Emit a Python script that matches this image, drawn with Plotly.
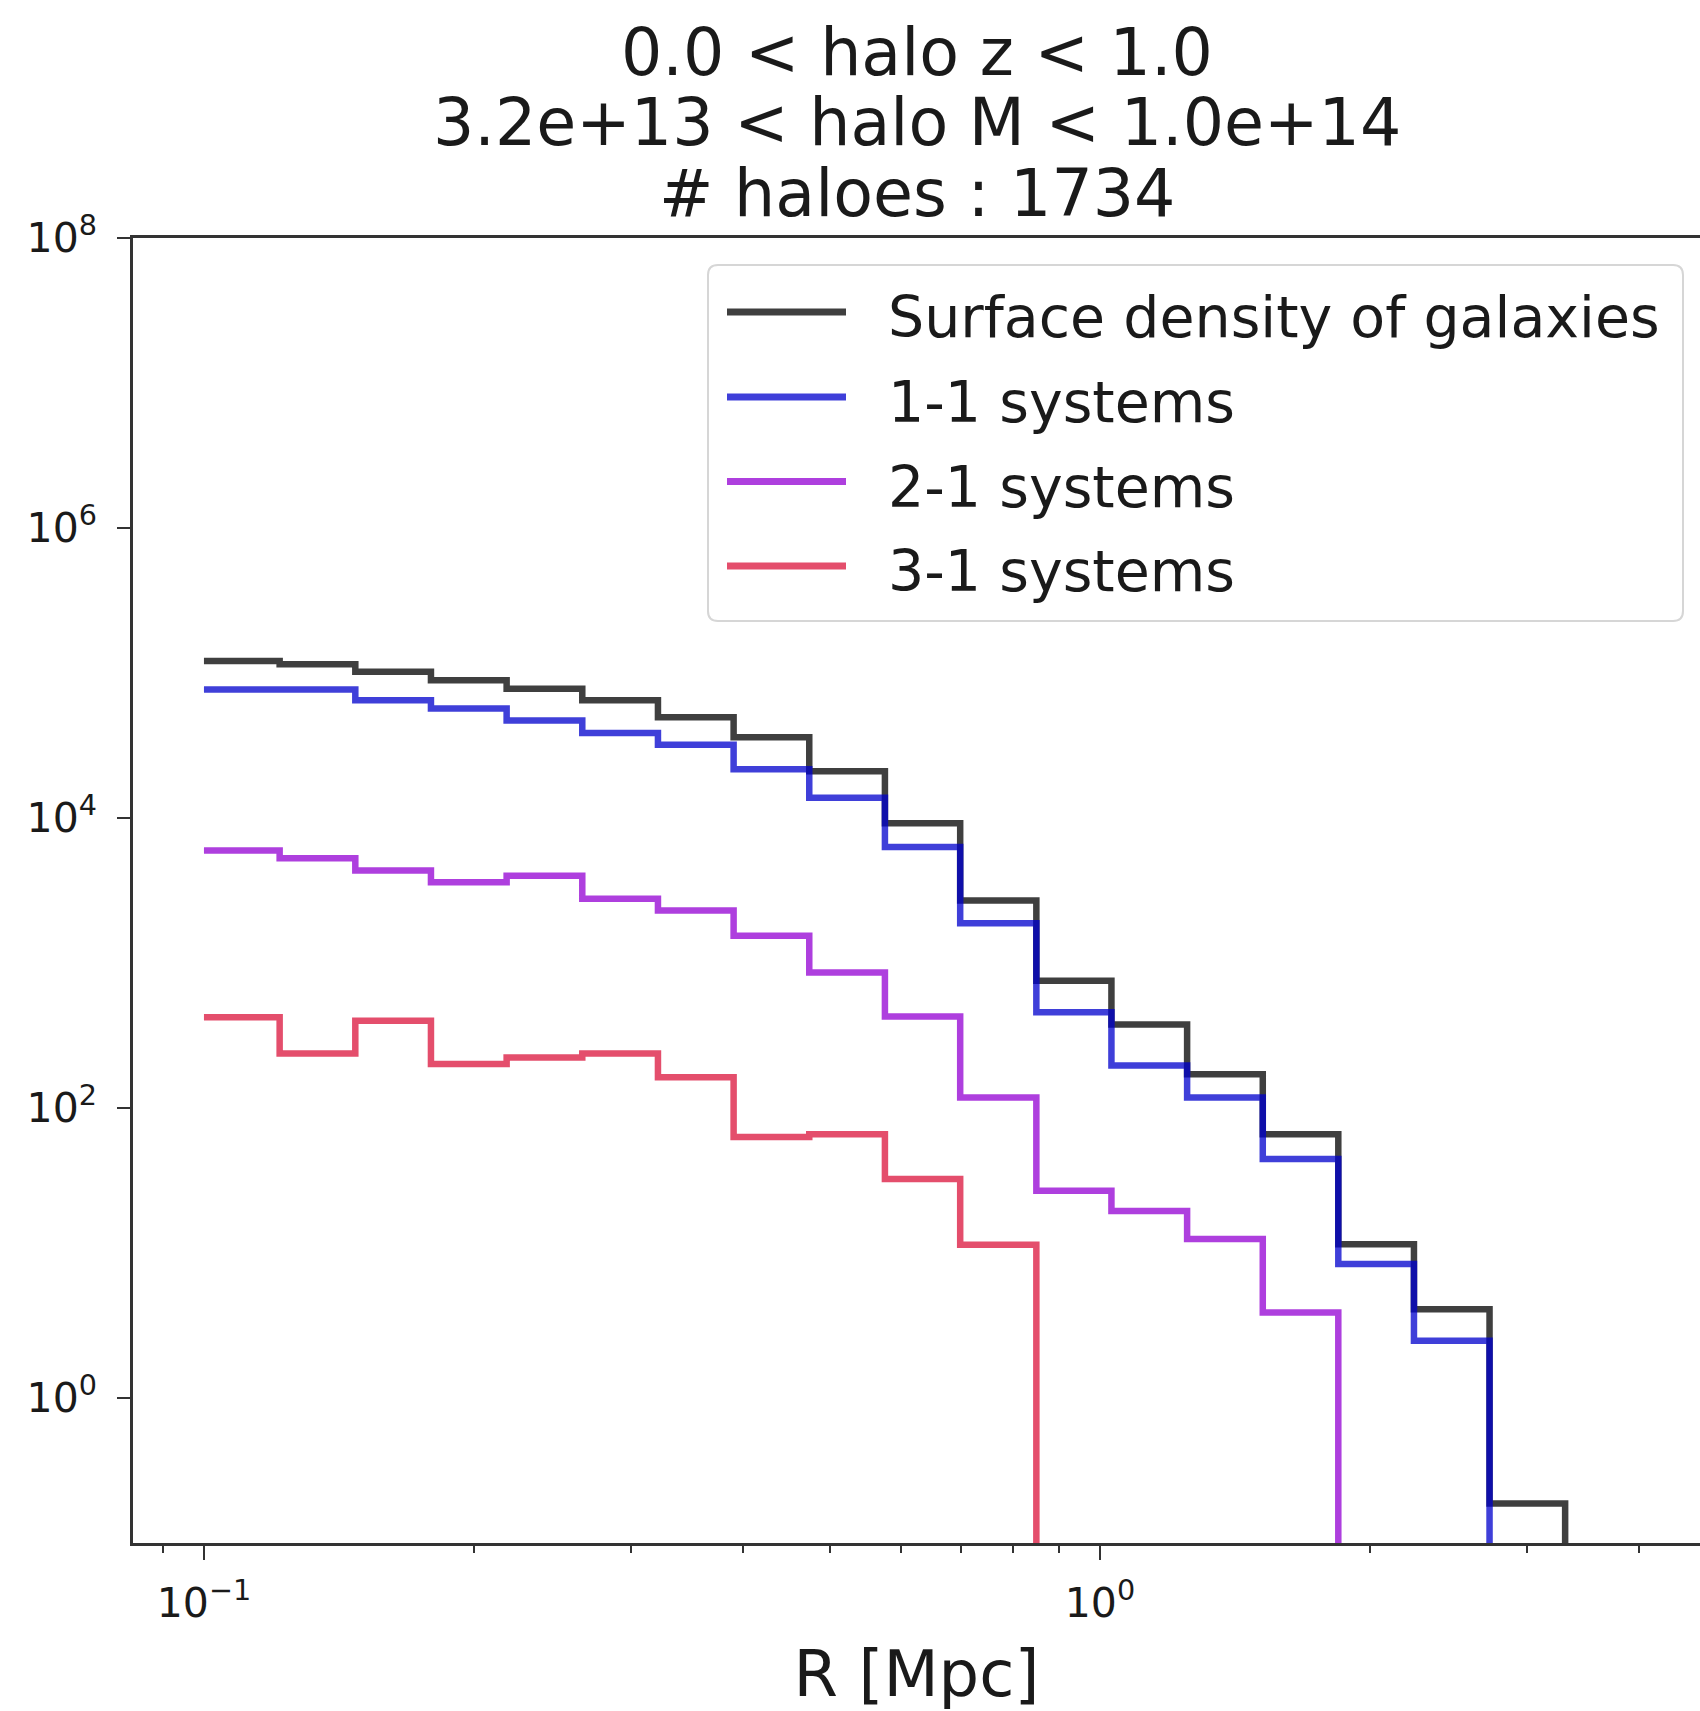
import plotly.graph_objects as go

# ---------------- data ----------------
bin_edges = [0.1, 0.12147, 0.14754, 0.17920, 0.21767, 0.26438, 0.32113, 0.39005,
             0.47376, 0.57544, 0.69823, 0.84918, 1.0299, 1.2510, 1.5195, 1.8450,
             2.2410, 2.7214, 3.3050]

galaxies = [1.21e5, 1.15e5, 1.02e5, 8.9e4, 7.8e4, 6.5e4, 4.95e4, 3.6e4, 2.1e4,
            9.2e3, 2.7e3, 755, 376, 171, 66, 11.5, 4.1, 0.187]
sys_1_1 = [7.7e4, 7.7e4, 6.5e4, 5.7e4, 4.7e4, 3.85e4, 3.2e4, 2.17e4, 1.38e4,
           6.3e3, 1.88e3, 457, 196, 118, 44.5, 8.4, 2.48, 0]
sys_2_1 = [5.96e3, 5.27e3, 4.34e3, 3.6e3, 4.0e3, 2.77e3, 2.3e3, 1.54e3, 861,
           427, 118, 26.9, 19.5, 12.5, 3.89, 0, 0, 0]
sys_3_1 = [422, 238, 400, 201, 223, 238, 163, 63, 66, 32.4, 11.4, 0, 0, 0,
           0, 0, 0, 0]

series_names = ["Surface density of galaxies", "1-1 systems", "2-1 systems", "3-1 systems"]
series_values = [galaxies, sys_1_1, sys_2_1, sys_3_1]
series_colors = ["black", "mediumblue", "darkviolet", "crimson"]

title_lines = ["0.0 < halo z < 1.0", "3.2e+13 < halo M < 1.0e+14", "# haloes : 1734"]
x_title = "R [Mpc]"
x_tickvals = [0.1, 1]
x_ticktext = ["10<sup>\u22121</sup>", "10<sup>0</sup>"]
x_minor = [0.09, 0.2, 0.3, 0.4, 0.5, 0.6, 0.7, 0.8, 0.9, 2, 3, 4]
y_tickvals = [1, 1e2, 1e4, 1e6, 1e8]
y_ticktext = ["10<sup>0</sup>", "10<sup>2</sup>", "10<sup>4</sup>", "10<sup>6</sup>", "10<sup>8</sup>"]

# ---------------- layout geometry ----------------
W, H = 1700, 1711
L, R, T, B = 133, 0, 238, 168
PW, PH = W - L - R, H - T - B
FONT = "DejaVu Sans"
FLOOR = 1e-3  # zero bins are drawn below the visible range (clipped)


def px(x):
    return (x - L) / PW


def py(y):
    return (H - B - y) / PH


fig = go.Figure()
for name, vals, col in zip(series_names, series_values, series_colors):
    yv = [v if v > 0 else FLOOR for v in vals] + [FLOOR]
    fig.add_trace(go.Scatter(
        x=bin_edges, y=yv, mode="lines", name=name,
        line=dict(color=col, width=6.5, shape="hv"),
        opacity=0.75, showlegend=False,
    ))

axis_common = dict(
    showgrid=False, zeroline=False, showline=True, linecolor="#333333",
    linewidth=2.5, ticks="outside", tickcolor="#333333", tickwidth=2,
    tickfont=dict(family=FONT, size=41, color="#1a1a1a"),
)

# x range: page x=133 -> 10^-1.0792, 896 px per decade
x_left = -1.0792
x_right = x_left + PW / 896.0

fig.update_xaxes(
    type="log", range=[x_left, x_right], tickvals=x_tickvals, ticktext=x_ticktext,
    ticklen=14, mirror=True, ticklabelstandoff=8,
    minor=dict(tickvals=x_minor, ticklen=7, tickwidth=1.5, tickcolor="#333333", ticks="outside"),
    title=dict(text=x_title, font=dict(family=FONT, size=64, color="#1a1a1a"), standoff=28),
    **axis_common,
)
fig.update_yaxes(
    type="log", range=[-1.0, 8.0], tickvals=y_tickvals, ticktext=y_ticktext,
    ticklen=13, mirror=False, ticklabelstandoff=12,
    **axis_common,
)

# title lines
title_y = [52, 123, 194]
for txt, yy in zip(title_lines, title_y):
    fig.add_annotation(text=txt, x=px(917), y=py(yy), xref="paper", yref="paper",
                       xanchor="center", yanchor="middle", showarrow=False,
                       font=dict(family=FONT, size=65, color="#1a1a1a"))

# legend box (rounded rectangle)
lx0, lx1, ly0, ly1, rr = 708, 1683, 265, 621, 10
pts = lambda x, y: f"{px(x):.5f},{py(y):.5f}"
path = (f"M {pts(lx0 + rr, ly0)} L {pts(lx1 - rr, ly0)} Q {pts(lx1, ly0)} {pts(lx1, ly0 + rr)} "
        f"L {pts(lx1, ly1 - rr)} Q {pts(lx1, ly1)} {pts(lx1 - rr, ly1)} "
        f"L {pts(lx0 + rr, ly1)} Q {pts(lx0, ly1)} {pts(lx0, ly1 - rr)} "
        f"L {pts(lx0, ly0 + rr)} Q {pts(lx0, ly0)} {pts(lx0 + rr, ly0)} Z")
fig.add_shape(type="path", path=path, xref="paper", yref="paper",
              line=dict(color="#d6d6d6", width=2), fillcolor="rgba(255,255,255,0.8)",
              layer="above")

entry_y = [312, 397, 481.5, 566]
for name, col, yy in zip(series_names, series_colors, entry_y):
    fig.add_shape(type="line", xref="paper", yref="paper",
                  x0=px(727), x1=px(846), y0=py(yy), y1=py(yy),
                  line=dict(color=col, width=7), opacity=0.75, layer="above")
    fig.add_annotation(text=name, x=px(886), y=py(yy + 5), xref="paper", yref="paper",
                       xanchor="left", yanchor="middle", showarrow=False,
                       font=dict(family=FONT, size=57, color="#1a1a1a"))

fig.update_layout(
    width=W, height=H, autosize=False,
    margin=dict(l=L, r=R, t=T, b=B, pad=0),
    paper_bgcolor="white", plot_bgcolor="white",
    showlegend=False,
)

# remove the default page margin so the figure fills the window exactly
fig.write_html("out.html",
               config={"displayModeBar": False},
               post_script="document.body.style.margin='0';document.body.style.overflow='hidden';")
